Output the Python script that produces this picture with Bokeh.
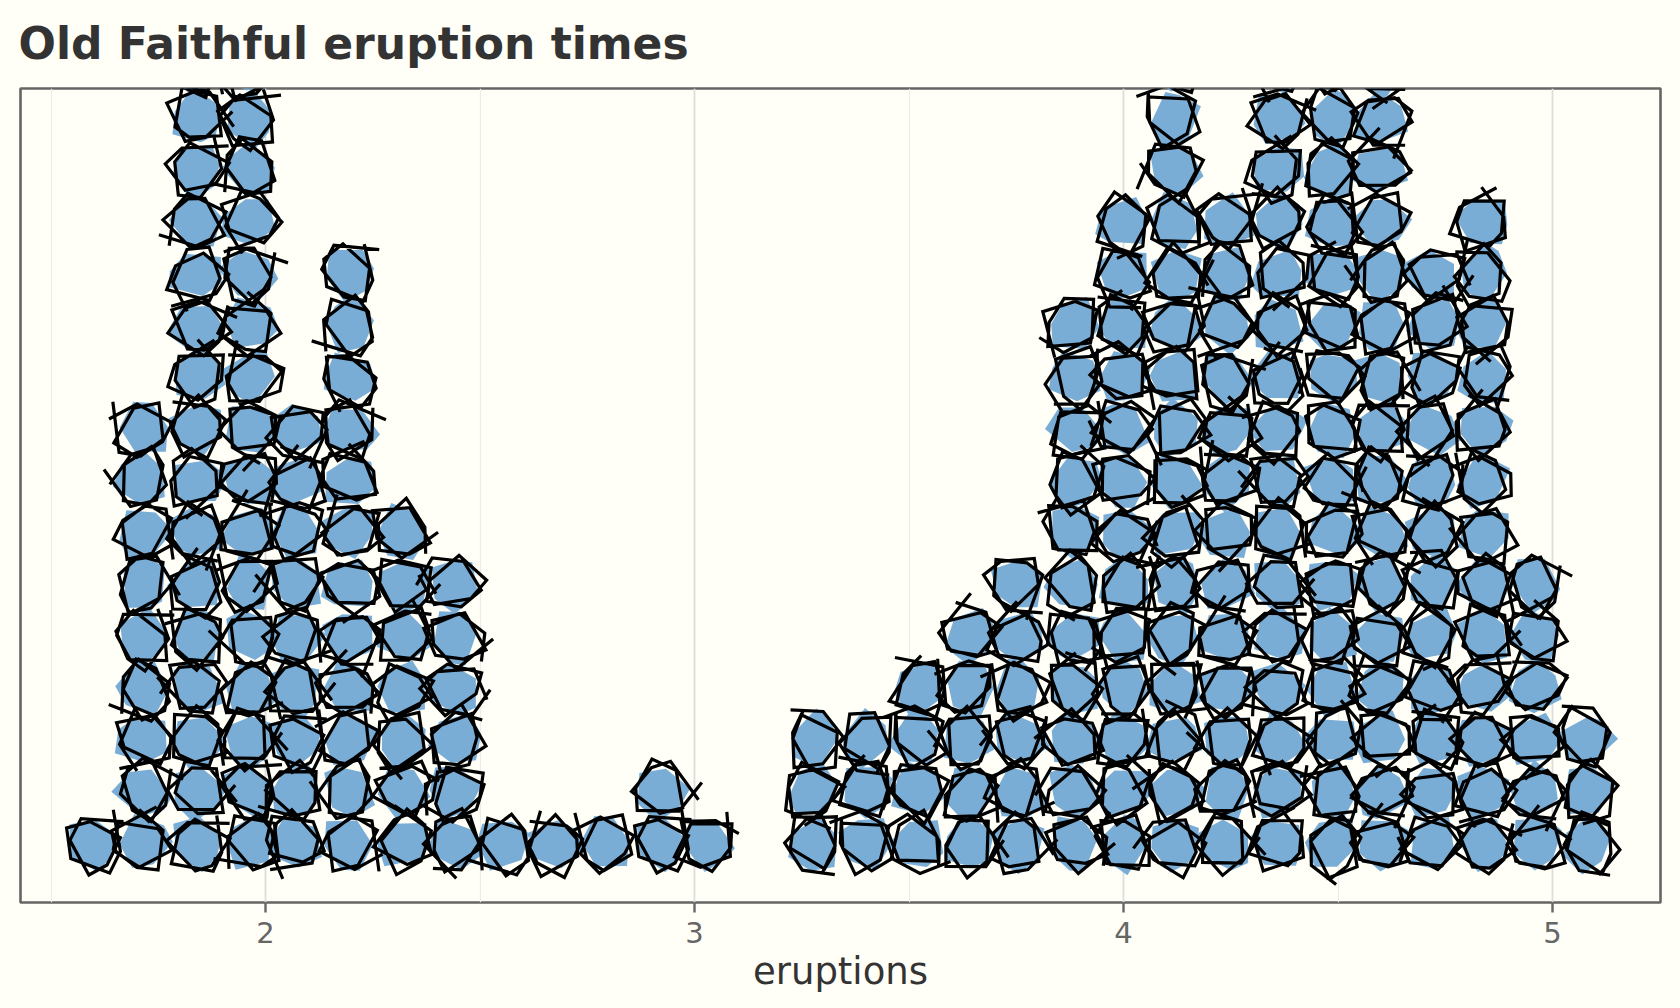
import math
from bokeh.plotting import figure
from bokeh.models import FixedTicker
from bokeh.embed import file_html
from bokeh.resources import INLINE

TITLE = "Old Faithful eruption times"
X_LABEL = "eruptions"
TICKS = [2, 3, 4, 5]
MINOR_TICKS = [1.5, 2.5, 3.5, 4.5]

# dot-plot bins
BIN_X = [1.596, 1.715, 1.84, 1.963, 2.07, 2.195, 2.32, 2.44, 2.557, 2.677, 2.79, 2.92, 3.03,
         3.28, 3.40, 3.52, 3.64, 3.755, 3.885, 4.0, 4.12, 4.24, 4.36, 4.487, 4.60, 4.72, 4.84, 4.96, 5.08]
COUNTS = [1, 9, 17, 17, 9, 12, 7, 6, 1, 1, 1, 2, 1,
          3, 3, 4, 5, 6, 11, 13, 16, 13, 16, 16, 16, 12, 13, 6, 3]

# hand-drawn look: radius profiles of the rough shapes, in dot radii
FILL_RADII = [
    [1.02, 0.88, 1.08, 0.92, 1.04, 0.86],
    [0.90, 1.10, 0.86, 1.02, 0.92, 1.12],
    [1.14, 0.84, 0.96, 1.06, 0.84, 0.98],
    [0.92, 1.00, 1.12, 0.84, 1.06, 0.88],
    [1.06, 0.86, 0.88, 1.16, 0.90, 1.00],
    [0.84, 1.08, 0.94, 0.92, 1.14, 0.86],
    [1.00, 1.12, 0.86, 0.98, 0.84, 1.08],
]
FILL_ANGLES = [
    [0, 72, 128, 196, 268, 312],
    [0, 48, 118, 180, 250, 305],
    [0, 66, 140, 205, 255, 322],
    [0, 80, 135, 190, 275, 330],
]
LINE_RADII = [
    [1.38, 1.04, 0.86, 1.12, 0.90, 1.02, 0.84, 1.14, 0.96, 1.20, 1.02, 1.46],
    [1.26, 0.88, 1.16, 0.84, 1.08, 0.94, 1.18, 0.86, 1.24, 0.92, 1.04, 1.36],
    [1.46, 1.14, 0.94, 0.86, 1.18, 0.84, 1.10, 1.00, 0.88, 1.16, 0.96, 1.24],
    [1.22, 0.84, 1.06, 1.16, 0.86, 1.12, 0.90, 1.22, 0.84, 1.02, 1.14, 1.48],
    [1.40, 0.96, 1.20, 0.90, 0.84, 1.16, 1.00, 0.88, 1.18, 1.04, 0.86, 1.30],
    [1.32, 1.08, 0.84, 1.18, 1.00, 0.88, 1.22, 0.92, 1.02, 0.84, 1.20, 1.38],
    [1.52, 0.90, 1.02, 1.08, 1.20, 0.86, 0.96, 1.14, 0.84, 1.10, 0.94, 1.26],
    [1.24, 1.16, 0.90, 0.98, 0.84, 1.24, 0.90, 1.04, 1.14, 0.90, 1.08, 1.42],
]
ROTATIONS = [12, 87, 143, 205, 262, 318, 41, 110, 176, 233, 291, 350, 64]
LINE_STEPS = [
    [78, 55, 92, 42, 70, 84, 50, 64, 88, 46, 74],
    [60, 88, 48, 76, 94, 40, 72, 58, 82, 66, 52],
    [90, 44, 68, 80, 52, 96, 56, 70, 42, 86, 62],
    [50, 74, 86, 58, 66, 46, 92, 78, 54, 72, 84],
]
NUDGE_X = [1, -2, 1, 3, -2, 0, -3, 2, -1]
NUDGE_Y = [-1, 2, -2, 1, 3, -2, 0, 2, -3, 1, -1]

FRAME_W, FRAME_H = 1640, 814
PX_PER_UNIT = 429.0
PX_PER_ROW = 51.8
X_START = 2 + (20 - 265) / PX_PER_UNIT
Y_START = -(902 - 843) / PX_PER_ROW
DOT_R = 27.5

p = figure(frame_width=FRAME_W, frame_height=FRAME_H, output_backend="svg", toolbar_location=None,
           x_range=(X_START, X_START + FRAME_W / PX_PER_UNIT),
           y_range=(Y_START, Y_START + FRAME_H / PX_PER_ROW),
           min_border_left=20, min_border_right=20, min_border_top=0, min_border_bottom=10,
           background_fill_color="#FFFFF7", border_fill_color="#FFFFF7",
           outline_line_color="#666666", outline_line_width=2.6)

p.title.text = TITLE
p.title.text_font = "DejaVu Sans"
p.title.text_font_style = "bold"
p.title.text_font_size = "44px"
p.title.text_color = "#333333"
p.title.vertical_align = "top"
p.title.standoff = 35
p.title.offset = -2

p.yaxis.visible = False
p.ygrid.visible = False
ax = p.xaxis[0]
ax.ticker = FixedTicker(ticks=TICKS, minor_ticks=MINOR_TICKS)
ax.axis_label = X_LABEL
ax.axis_label_text_font = "DejaVu Sans"
ax.axis_label_text_font_style = "normal"
ax.axis_label_text_font_size = "37px"
ax.axis_label_text_color = "#333333"
ax.axis_label_standoff = 4
ax.major_label_text_font = "DejaVu Sans"
ax.major_label_text_font_size = "29px"
ax.major_label_text_color = "#666666"
ax.major_label_standoff = 9
ax.axis_line_color = None
ax.major_tick_in = 0
ax.major_tick_out = 10
ax.major_tick_line_color = "#666666"
ax.major_tick_line_width = 2.4
ax.minor_tick_line_color = None
g = p.xgrid[0]
g.grid_line_color = "#DDDDDD"
g.grid_line_width = 1.8
g.minor_grid_line_color = "#ECECEC"
g.minor_grid_line_width = 1.2

fill_xs, fill_ys, line_xs, line_ys = [], [], [], []
n = 0
for c, (bx, cnt) in enumerate(zip(BIN_X, COUNTS)):
    for row in range(cnt):
        k = n * 5 + c
        rot = ROTATIONS[k % len(ROTATIONS)]
        fr = FILL_RADII[k % len(FILL_RADII)]
        fd = FILL_ANGLES[k % len(FILL_ANGLES)]
        lr = LINE_RADII[(k * 3 + row) % len(LINE_RADII)]
        st = LINE_STEPS[(k + row) % len(LINE_STEPS)]
        ox = NUDGE_X[k % len(NUDGE_X)]
        oy = NUDGE_Y[(k + row) % len(NUDGE_Y)]
        fa = [math.radians(rot + d) for d in fd]
        fill_xs.append([bx + (DOT_R * r * math.cos(a)) / PX_PER_UNIT for r, a in zip(fr, fa)])
        fill_ys.append([row + (DOT_R * r * math.sin(a)) / PX_PER_ROW for r, a in zip(fr, fa)])
        ang = rot + 25
        la = [ang]
        for s in st:
            ang += s
            la.append(ang)
        la = [math.radians(d) for d in la]
        line_xs.append([bx + (ox + DOT_R * r * math.cos(a)) / PX_PER_UNIT for r, a in zip(lr, la)])
        line_ys.append([row + (oy + DOT_R * r * math.sin(a)) / PX_PER_ROW for r, a in zip(lr, la)])
        n += 1

p.patches(fill_xs, fill_ys, fill_color="#7AADD6", line_color=None)
p.multi_line(line_xs, line_ys, line_color="#000000", line_width=3.2, line_join="miter")

html = file_html(p, INLINE)
html = html.replace("<head>", "<head><style>html,body{background:#FFFFF7;}</style>", 1)
open("out.html", "w").write(html)
